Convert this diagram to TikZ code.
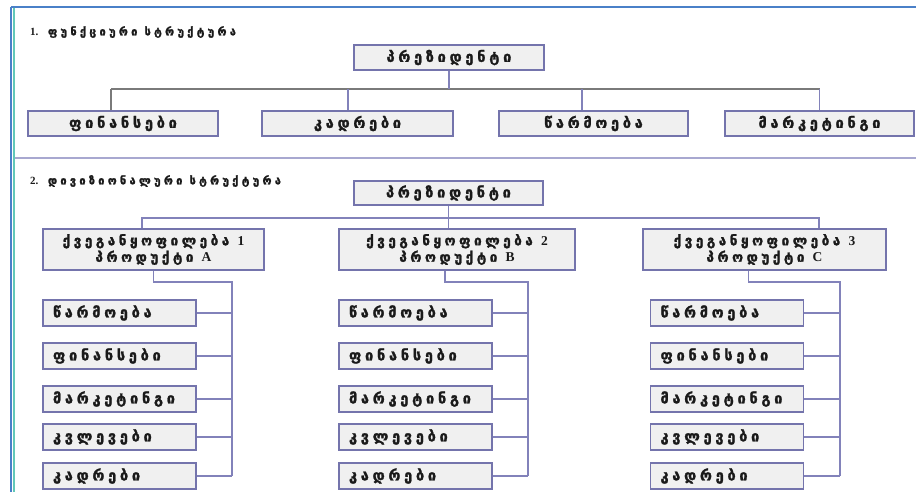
\documentclass[tikz,border=0pt]{standalone}
\usepackage{fontspec}
\usetikzlibrary{calc}
\newfontfamily\geo{DejaVu Sans}[LetterSpace=26, FakeBold=1.8]
\newfontfamily\geotitle{DejaVu Sans}[LetterSpace=30, FakeBold=1.6]
\newfontfamily\lat{Liberation Serif}
\definecolor{boxline}{HTML}{7474AC}
\definecolor{boxfill}{HTML}{F0F0F0}
\definecolor{conn}{HTML}{8282BA}
\definecolor{busgray}{HTML}{7A7A7A}
\definecolor{frameblue}{HTML}{4A80C8}
\definecolor{frameteal}{HTML}{62C8B8}
\definecolor{sepline}{HTML}{A8A8D0}
\definecolor{ink}{HTML}{1A1A1A}
\tikzset{
  unitbox/.style={draw=boxline, fill=boxfill, line width=1.3pt, inner sep=0pt,
    text=ink, font=\geo\bfseries\fontsize{14.5}{15}\selectfont},
  deptbox/.style={unitbox, minimum height=25pt},
  divbox/.style={unitbox, minimum height=41pt, align=center, font=\geo\bfseries\fontsize{13.5}{16.5}\selectfont},
  subbox/.style={unitbox, minimum height=26pt, text width=133pt, inner xsep=10pt, align=left},
  link/.style={draw=conn, line width=1.2pt},
  buslink/.style={draw=busgray, line width=1.5pt},
  sectitle/.style={anchor=west, inner sep=0pt, text=ink, font=\geotitle\bfseries\fontsize{11}{12}\selectfont}
}
\begin{document}
\begin{tikzpicture}[x=1pt, y=-1pt]
\useasboundingbox (0,0) rectangle (916,492);

% frame
\draw[frameblue, line width=1.5pt] (11,7) -- (916,7);
\draw[frameblue, line width=1.5pt] (11,7) -- (11,492);
\draw[frameteal, line width=2pt] (13.5,8) -- (13.5,492);
\draw[sepline, line width=1.5pt] (14.5,158) -- (916,158);

% ---------- 1. functional structure ----------
\node[sectitle] (t1) at (30,32) {{\lat\bfseries 1.} ფუნქციური სტრუქტურა};
\node[deptbox, minimum width=190pt] (p1) at (449,57.5) {პრეზიდენტი};
\node[deptbox, minimum width=190pt] (f1) at (123,123.5) {ფინანსები};
\node[deptbox, minimum width=191pt] (f2) at (357.5,123.5) {კადრები};
\node[deptbox, minimum width=189pt] (f3) at (593.5,123.5) {წარმოება};
\node[deptbox, minimum width=189pt] (f4) at (819.5,123.5) {მარკეტინგი};

\coordinate (b1) at (449,89);
\coordinate (d1) at ([xshift=-12pt]f1.north);
\coordinate (d2) at ([xshift=-9.5pt]f2.north);
\coordinate (d3) at ([xshift=-11.5pt]f3.north);
\draw[buslink] (d1 |- b1) -- (f4.north |- b1);
\draw[link] (p1.south) -- (b1);
\draw[buslink] (d1) -- (d1 |- b1);
\draw[link] (d2) -- (d2 |- b1);
\draw[link] (d3) -- (d3 |- b1);
\draw[link] (f4.north) -- (f4.north |- b1);

% ---------- 2. divisional structure ----------
\node[sectitle] (t2) at (30,181) {{\lat\bfseries 2.} დივიზიონალური სტრუქტურა};
\node[deptbox, minimum width=189pt, minimum height=24pt] (p2) at (448.5,193) {პრეზიდენტი};
\node[divbox, minimum width=221pt] (dA) at (153.5,249.5) {ქვეგანყოფილება {\lat\bfseries 1}\\პროდუქტი {\lat\bfseries A}};
\node[divbox, minimum width=236pt] (dB) at (457,249.5) {ქვეგანყოფილება {\lat\bfseries 2}\\პროდუქტი {\lat\bfseries B}};
\node[divbox, minimum width=243pt] (dC) at (764.5,249.5) {ქვეგანყოფილება {\lat\bfseries 3}\\პროდუქტი {\lat\bfseries C}};

\coordinate (b2) at (448.5,218);
\coordinate (eA) at ([xshift=-11.5pt]dA.north);
\coordinate (eC) at ([xshift=54.5pt]dC.north);
\draw[link] (eA) |- (b2) -| (eC);
\draw[link] (p2.south) -- (p2.south |- dB.north);

% sub-units of each division
\foreach \col/\cx/\vx/\sx in {A/119.5/232/0, B/415.5/528/-12, C/727/840/-16} {
  \node[subbox] (\col1) at (\cx,313) {წარმოება};
  \node[subbox] (\col2) at (\cx,356) {ფინანსები};
  \node[subbox] (\col3) at (\cx,399) {მარკეტინგი};
  \node[subbox] (\col4) at (\cx,437) {კვლევები};
  \node[subbox] (\col5) at (\cx,476) {კადრები};
  \coordinate (s\col) at ([xshift=\sx pt]d\col.south);
  \coordinate (v\col) at (\vx,282);
  \draw[link] (s\col) |- (v\col) -- (v\col |- \col5.east);
  \foreach \k in {1,...,5} {
    \draw[link] (\col\k.east) -- (v\col |- \col\k.east);
  }
}
\end{tikzpicture}
\end{document}
